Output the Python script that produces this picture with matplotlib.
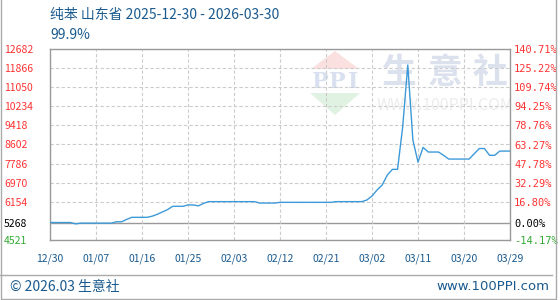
import matplotlib
matplotlib.use("Agg")
import matplotlib.pyplot as plt
from matplotlib.patches import Polygon
from matplotlib.lines import Line2D

plt.rcParams['font.family'] = ['Noto Sans CJK SC', 'DejaVu Sans']

# 数据 (按天序号, 0 = 12/30)
day_idx = [0, 4, 5, 6, 12, 13, 14, 15, 16, 19, 20, 21, 22, 23, 24, 26, 27, 28, 29, 30,
           31, 40, 41, 44, 45, 55, 56, 61, 62, 63, 64, 65, 66, 67, 68, 69, 70, 71, 72, 73,
           74, 76, 77, 78, 82, 84, 85, 86, 87, 88, 90]
price = [5268, 5268, 5210, 5240, 5240, 5300, 5300, 5400, 5490, 5490, 5540, 5620, 5720, 5820,
         5960, 5960, 6020, 6020, 5980, 6080, 6160, 6160, 6100, 6100, 6130, 6130, 6160, 6160,
         6230, 6400, 6660, 6870, 7300, 7540, 7540, 9350, 12000, 8790, 7850, 8480, 8280, 8280,
         8140, 7980, 7980, 8430, 8430, 8140, 8140, 8320, 8320]

base = 5268
y_ticks = [12682, 11866, 11050, 10234, 9418, 8602, 7786, 6970, 6154, 5268, 4521]
pct_labels = ["140.71%", "125.22%", "109.74%", "94.25%", "78.76%", "63.27%", "47.78%",
              "32.29%", "16.80%", "0.00%", "-14.17%"]
x_labels = ["12/30", "01/07", "01/16", "01/25", "02/03", "02/12", "02/21",
            "03/02", "03/11", "03/20", "03/29"]
x_pos = [i * 9 for i in range(len(x_labels))]

red = "#ff3333"
green = "#33aa33"
blue_txt = "#1a5a8e"

fig = plt.figure(figsize=(5.6, 3.0), dpi=100)
ax = fig.add_axes([50 / 560, 60 / 300, 460 / 560, 191 / 300])

ax.set_xlim(0, 90)
ax.set_ylim(4521, 12682)

# 网格
for yt in y_ticks:
    if yt == base:
        ax.axhline(yt, color="#999999", lw=1.0, zorder=1)
    else:
        ax.axhline(yt, color="#cccccc", lw=0.8, ls=(0, (3, 2)), zorder=1)
for xp in x_pos:
    ax.axvline(xp, color="#cccccc", lw=0.8, ls=(0, (3, 2)), zorder=1)

# 水印 (像素坐标 -> 轴坐标)
def px(x, y):
    return [(x - 50) / 460, (240 - y) / 191]

wm = ax.transAxes
ax.add_patch(Polygon([px(311, 69), px(359, 69), px(335, 51)], closed=True, transform=wm,
                     color="#fbe0e0", lw=0, zorder=0))
ax.add_patch(Polygon([px(310, 93), px(360, 93), px(335, 115)], closed=True, transform=wm,
                     color="#e0f2e2", lw=0, zorder=0))
for ch, cx in zip("PPI", [320, 337, 353]):
    ax.text(*px(cx, 82), ch, transform=wm, ha="center", va="center", fontsize=16,
            color="#d9e0ef", family="DejaVu Serif", fontweight="bold", zorder=0)
for ch, cx in zip("生意社", [399, 445, 490]):
    ax.text(*px(cx, 72), ch, transform=wm, ha="center", va="center",
            fontsize=25, color="#dce1ee", fontweight="bold", zorder=0)
ax.text(*px(445, 105), "WWW.100PPI.COM", transform=wm, ha="center",
        va="center", fontsize=11.5, color="#ececec", zorder=0, clip_on=True)

ax.plot(day_idx, price, color="#3d9ad8", lw=1.0, zorder=3)

ax.set_xticks(x_pos)
ax.set_xticklabels(x_labels, fontsize=7.5, color=blue_txt)
ax.tick_params(axis="x", length=0, pad=10)
ax.set_yticks(y_ticks)
ax.set_yticklabels([str(v) for v in y_ticks], fontsize=7.5, ha="left")
ax.tick_params(axis="y", length=0, pad=33)
for lab, v in zip(ax.get_yticklabels(), y_ticks):
    lab.set_color(red if v > base else ("black" if v == base else green))

for s in ax.spines.values():
    s.set_color("#999999")
    s.set_linewidth(1.0)

ax2 = ax.twinx()
ax2.set_ylim((4521 / base - 1) * 100, (12682 / base - 1) * 100)
pct_vals = [float(p.rstrip("%")) for p in pct_labels]
ax2.set_yticks(pct_vals)
ax2.set_yticklabels(pct_labels, fontsize=7.5, family="DejaVu Sans Mono")
ax2.tick_params(axis="y", length=0, pad=3)
for lab, v in zip(ax2.get_yticklabels(), pct_vals):
    lab.set_color(red if v > 0 else ("black" if v == 0 else green))
for s in ax2.spines.values():
    s.set_visible(False)

# 标题
fig.text(50 / 560, 1 - 15 / 300, "纯苯 山东省 2025-12-30 - 2026-03-30", fontsize=10,
         color=blue_txt, va="center", ha="left")
fig.text(50 / 560, 1 - 35 / 300, "99.9%", fontsize=10, color=blue_txt, va="center", ha="left")

# 页脚与边框
fig.add_artist(Line2D([0, 552 / 560], [1 - 275 / 300, 1 - 275 / 300], color="#aaaaaa", lw=1.0))
fig.add_artist(Line2D([0.5 / 560, 0.5 / 560, 556 / 560, 556 / 560],
                      [1.0, 1 - 298.5 / 300, 1 - 298.5 / 300, 1.0], color="#aaaaaa", lw=1.0))
fig.text(10 / 560, 1 - 287 / 300, "© 2026.03 生意社", fontsize=10, color=blue_txt,
         va="center", ha="left")
fig.text(549 / 560, 1 - 287 / 300, "www.100PPI.com", fontsize=9.5, color=blue_txt,
         va="center", ha="right", family="DejaVu Sans")

fig.savefig("out.png", dpi=100)
